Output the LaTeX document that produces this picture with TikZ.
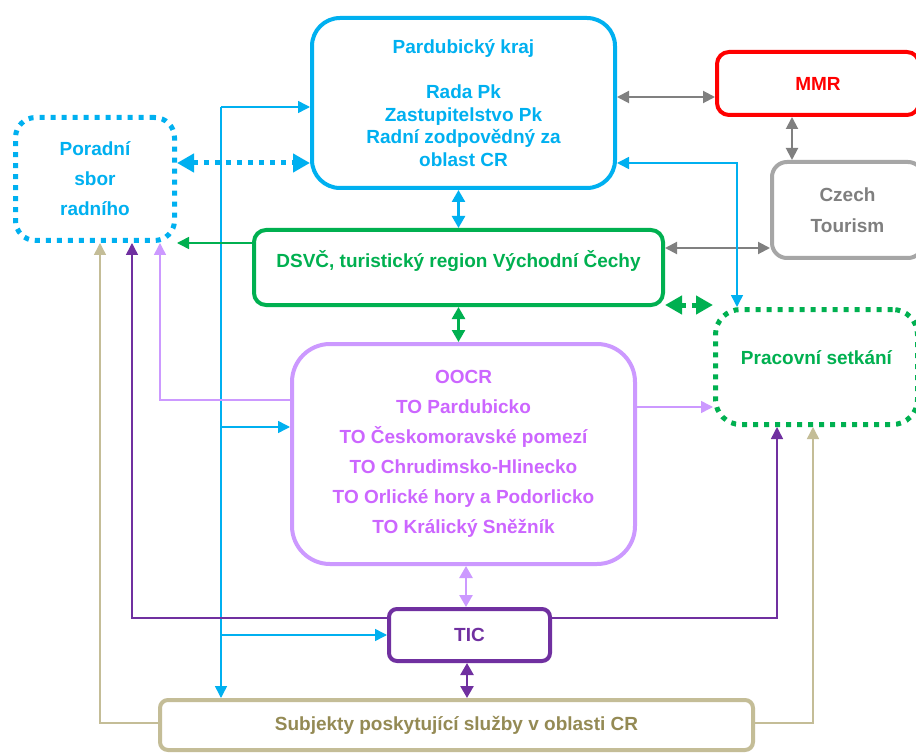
\documentclass[tikz,border=0pt]{standalone}
\usepackage{fontspec}
\setmainfont{Liberation Sans}
\usetikzlibrary{arrows.meta}

\definecolor{pkblue}{HTML}{00B0F0}
\definecolor{mmrred}{HTML}{FF0000}
\definecolor{ctgray}{HTML}{A6A6A6}
\definecolor{ctgraytext}{HTML}{7F7F7F}
\definecolor{linkgray}{HTML}{808080}
\definecolor{dsvcgreen}{HTML}{00B050}
\definecolor{oocrlilac}{HTML}{CC99FF}
\definecolor{oocrtext}{HTML}{CC66FF}
\definecolor{ticpurple}{HTML}{7030A0}
\definecolor{subjtan}{HTML}{C4BD97}
\definecolor{subjtext}{HTML}{948A54}

\begin{document}
\begin{tikzpicture}[x=1pt,y=-1pt,
	>={Triangle[length=12pt,width=12pt]},
	box/.style = {draw, line width=4pt, align=center, inner sep=4pt,
		font=\bfseries\fontsize{19}{30}\selectfont},
	dotbox/.style = {box, line width=5pt, dash pattern=on 5pt off 6pt},
	link/.style = {line width=1.5pt},
	midlink/.style = {line width=2.5pt, {Triangle[length=12pt,width=13pt]}-{Triangle[length=12pt,width=13pt]}},
	dotlink/.style = {line width=5pt, dash pattern=on 5pt off 6pt,
		{Triangle[length=17pt,width=18pt]}-{Triangle[length=17pt,width=18pt]}}]
	\path[use as bounding box, fill=white] (0,0) rectangle (916,754);

	% boxes
	\node[box, pkblue, rounded corners=28pt, minimum width=303pt, minimum height=170pt,
		font=\bfseries\fontsize{19}{22.7}\selectfont] (pk) at (463.5,103)
		{Pardubický kraj\\[22.7pt]Rada Pk\\Zastupitelstvo Pk\\Radní zodpovědný za\\oblast CR};
	\node[box, mmrred, rounded corners=12pt, minimum width=202pt, minimum height=63pt] (mmr) at (818,83.5) {MMR};
	\node[box, ctgray, text=ctgraytext, rounded corners=15pt, minimum width=151pt, minimum height=96pt,
		font=\bfseries\fontsize{19}{31}\selectfont] (ct) at (847.5,210) {Czech\\Tourism};
	\node[dotbox, pkblue, rounded corners=20pt, minimum width=159pt, minimum height=123pt] (poradni) at (95,179)
		{Poradní\\sbor\\radního};
	\node[box, dsvcgreen, rounded corners=12pt, minimum width=409pt, minimum height=75pt,
		text height=8pt, text depth=8pt] (dsvc) at (458.5,267.5) {DSVČ, turistický region Východní Čechy};
	\node[dotbox, dsvcgreen, rounded corners=25pt, minimum width=202pt, minimum height=115pt,
		text height=6pt, text depth=12pt] (prac) at (816.5,367) {Pracovní setkání};
	\node[box, oocrlilac, text=oocrtext, rounded corners=38pt, minimum width=343pt, minimum height=220pt] (oocr) at (463.5,454)
		{OOCR\\TO Pardubicko\\TO Českomoravské pomezí\\TO Chrudimsko-Hlinecko\\TO Orlické hory a Podorlicko\\TO Králický Sněžník};
	\node[box, ticpurple, rounded corners=8pt, minimum width=161pt, minimum height=52pt] (tic) at (469.5,635) {TIC};
	\node[box, subjtan, text=subjtext, rounded corners=8pt, minimum width=593pt, minimum height=50pt] (subj) at (456.5,725)
		{Subjekty poskytující služby v oblasti CR};

	% grey links
	\draw[link, linkgray, line width=2pt, <->] ([yshift=-13.5pt]mmr.west) -- ([yshift=-13.5pt]mmr.west -| pk.east);
	\draw[link, linkgray, line width=2pt, <->] ([xshift=-26pt]mmr.south) -- ([xshift=-26pt]mmr.south |- ct.north);
	\draw[link, linkgray, line width=2pt, <->] ([yshift=19.5pt]dsvc.east) -- ([yshift=19.5pt]dsvc.east -| ct.west);

	% blue links
	\coordinate (b1) at (221,107);
	\coordinate (b2) at (221,427);
	\coordinate (b3) at (737,163);
	\draw[dotlink, pkblue] ([yshift=16pt]poradni.east) -- ([yshift=16pt]poradni.east -| pk.west);
	\draw[link, pkblue, ->] (b1) -- (b1 -| pk.west);
	\draw[link, pkblue, ->] (b1) -- (b1 |- subj.north);
	\draw[link, pkblue, ->] (b2) -- (b2 -| oocr.west);
	\draw[link, pkblue, ->] (b1 |- tic.west) -- (tic.west);
	\draw[link, pkblue, <->] (b3 -| pk.east) -- (b3) -- (b3 |- prac.north);
	\draw[midlink, pkblue] (dsvc.north) -- (dsvc.north |- pk.south);

	% green links
	\draw[link, dsvcgreen, ->] ([yshift=24.5pt]dsvc.west) -- ([yshift=24.5pt]dsvc.west -| poradni.east);
	\draw[dotlink, dsvcgreen] ([yshift=2pt]dsvc.south east) -- ([yshift=2pt]dsvc.south east -| prac.west);
	\draw[midlink, dsvcgreen] (dsvc.south) -- (dsvc.south |- oocr.north);

	% lilac links
	\coordinate (l1) at (160,400);
	\draw[link, oocrlilac, ->] (l1 -| oocr.west) -- (l1) -- (l1 |- poradni.south);
	\draw[link, oocrlilac, ->] ([yshift=47pt]oocr.east) -- ([yshift=47pt]oocr.east -| prac.west);
	\draw[midlink, oocrlilac] ([xshift=2.5pt]oocr.south) -- ([xshift=2.5pt]oocr.south |- tic.north);

	% purple links
	\coordinate (d1) at (132,618);
	\coordinate (d2) at (777,618);
	\draw[link, ticpurple, ->] (d1 -| tic.west) -- (d1) -- (d1 |- poradni.south);
	\draw[link, ticpurple, ->] (d2 -| tic.east) -- (d2) -- (d2 |- prac.south);
	\draw[midlink, ticpurple] ([xshift=-2.5pt]tic.south) -- ([xshift=-2.5pt]tic.south |- subj.north);

	% tan links
	\coordinate (t1) at (100,723);
	\coordinate (t2) at (813,723);
	\draw[link, subjtan, ->] (t1 -| subj.west) -- (t1) -- (t1 |- poradni.south);
	\draw[link, subjtan, ->] (t2 -| subj.east) -- (t2) -- (t2 |- prac.south);
\end{tikzpicture}
\end{document}
